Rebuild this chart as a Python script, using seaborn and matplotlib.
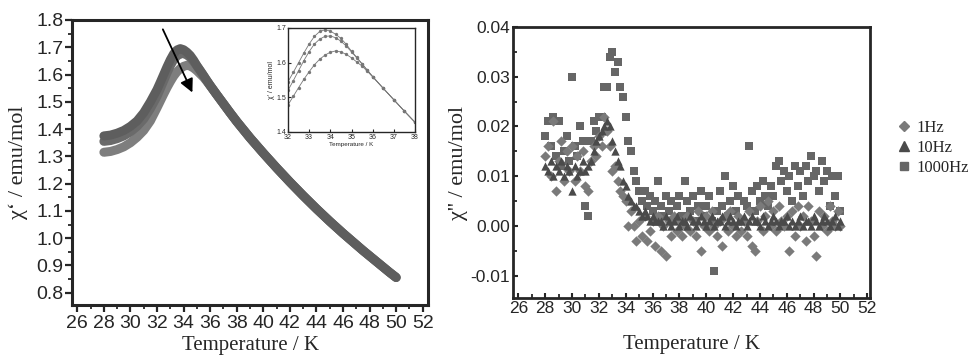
import numpy as np
import pandas as pd
import matplotlib
matplotlib.use("Agg")
import matplotlib.pyplot as plt
from matplotlib.lines import Line2D
from matplotlib.ticker import MultipleLocator
import seaborn as sns

# ---------------- data: left panel (chi') ----------------
T_head = [28.0, 28.5, 29.0, 29.5, 30.0, 30.5, 31.0, 31.5, 32.0, 32.25, 32.5, 32.75,
          33.0, 33.25, 33.5, 33.75, 34.0, 34.25, 34.5, 34.75, 35.0, 35.25, 35.5, 35.75, 36.0]
T_tail = [36.5, 37.0, 37.5, 38.0, 38.5, 39.0, 39.5, 40.0, 40.5, 41.0, 41.5, 42.0, 42.5, 43.0,
          43.5, 44.0, 44.5, 45.0, 45.5, 46.0, 46.5, 47.0, 47.5, 48.0, 48.5, 49.0, 49.5, 50.0]
chi1_head = [1.375, 1.378, 1.385, 1.395, 1.410, 1.430, 1.460, 1.500, 1.545, 1.572, 1.600, 1.628,
             1.654, 1.676, 1.690, 1.695, 1.691, 1.682, 1.670, 1.653, 1.633, 1.615, 1.597, 1.578, 1.560]
chi10_head = [1.355, 1.358, 1.365, 1.375, 1.390, 1.410, 1.437, 1.475, 1.520, 1.548, 1.577, 1.606,
              1.632, 1.654, 1.668, 1.676, 1.677, 1.672, 1.662, 1.648, 1.631, 1.614, 1.596, 1.578, 1.560]
chi1000_head = [1.315, 1.318, 1.325, 1.335, 1.350, 1.370, 1.395, 1.430, 1.478, 1.503, 1.528, 1.552,
                1.574, 1.594, 1.610, 1.622, 1.630, 1.634, 1.631, 1.624, 1.614, 1.602, 1.590, 1.575, 1.559]
chi_tail = [1.526, 1.493, 1.460, 1.428, 1.398, 1.368, 1.340, 1.312, 1.285, 1.258, 1.232, 1.206,
            1.181, 1.156, 1.132, 1.108, 1.085, 1.062, 1.040, 1.018, 0.997, 0.976, 0.955, 0.935,
            0.915, 0.895, 0.875, 0.856]

# ---------------- data: right panel (chi'') ----------------
T2 = [28.0, 28.2, 28.4, 28.6, 28.8, 29.0, 29.2, 29.4, 29.6, 29.8,
      30.0, 30.2, 30.4, 30.6, 30.8, 31.0, 31.2, 31.4, 31.6, 31.8,
      32.0, 32.2, 32.4, 32.6, 32.8, 33.0, 33.2, 33.4, 33.6, 33.8,
      34.0, 34.2, 34.4, 34.6, 34.8, 35.0, 35.2, 35.4, 35.6, 35.8,
      36.0, 36.2, 36.4, 36.6, 36.8, 37.0, 37.2, 37.4, 37.6, 37.8,
      38.0, 38.2, 38.4, 38.6, 38.8, 39.0, 39.2, 39.4, 39.6, 39.8,
      40.0, 40.2, 40.4, 40.6, 40.8, 41.0, 41.2, 41.4, 41.6, 41.8,
      42.0, 42.2, 42.4, 42.6, 42.8, 43.0, 43.2, 43.4, 43.6, 43.8,
      44.0, 44.2, 44.4, 44.6, 44.8, 45.0, 45.2, 45.4, 45.6, 45.8,
      46.0, 46.2, 46.4, 46.6, 46.8, 47.0, 47.2, 47.4, 47.6, 47.8,
      48.0, 48.2, 48.4, 48.6, 48.8, 49.0, 49.2, 49.4, 49.6, 49.8, 50.0]
chi2_1Hz = [0.014, 0.016, 0.010, 0.021, 0.007,
            0.013, 0.017, 0.009, 0.015, 0.011,
            0.016, 0.009, 0.014, 0.011, 0.015,
            0.008, 0.007, 0.013, 0.016, 0.014,
            0.018, 0.016, 0.022, 0.019, 0.016,
            0.011, 0.012, 0.009, 0.007, 0.006,
            0.005, 0.000, 0.003, 0.000, -0.003,
            0.001, -0.002, 0.002, -0.003, -0.001,
            0.001, -0.004, 0.002, -0.005, 0.000,
            -0.006, 0.001, -0.002, 0.002, -0.001,
            0.001, -0.002, 0.000, 0.002, -0.001,
            0.001, -0.002, 0.003, -0.005, 0.000,
            0.002, -0.001, 0.003, 0.000, -0.002,
            0.001, -0.004, 0.002, -0.001, 0.003,
            0.000, -0.002, 0.002, -0.001, 0.001,
            -0.002, 0.003, -0.004, -0.005, 0.001,
            0.004, -0.001, 0.002, 0.005, 0.000,
            0.003, -0.001, 0.004, 0.001, 0.000,
            0.002, -0.005, 0.003, -0.002, 0.004,
            0.000, 0.002, -0.003, 0.004, 0.001,
            -0.002, -0.006, 0.003, 0.000, 0.002,
            -0.001, 0.004, 0.001, 0.000, 0.003,
            0.000]
chi2_10Hz = [0.012, 0.011, 0.013, 0.010, 0.012,
             0.011, 0.013, 0.010, 0.012, 0.011,
             0.007, 0.012, 0.010, 0.011, 0.013,
             0.011, 0.012, 0.013, 0.015, 0.017,
             0.018, 0.019, 0.020, 0.021, 0.020,
             0.017, 0.015, 0.013, 0.012, 0.009,
             0.008, 0.006, 0.005, 0.004, 0.004,
             0.003, 0.002, 0.003, 0.002, 0.001,
             0.002, 0.001, 0.001, 0.001, 0.000,
             0.002, 0.001, 0.000, 0.001, 0.002,
             0.000, 0.001, 0.001, 0.000, 0.002,
             0.001, 0.000, 0.001, 0.002, 0.001,
             0.000, 0.001, 0.002, 0.000, 0.001,
             0.001, 0.002, 0.000, 0.001, 0.002,
             0.001, 0.000, 0.001, 0.001, 0.002,
             0.000, 0.001, 0.002, 0.001, 0.001,
             0.000, 0.002, 0.001, 0.000, 0.001,
             0.002, 0.001, 0.000, 0.001, 0.001,
             0.002, 0.000, 0.001, 0.000, 0.001,
             0.002, 0.000, 0.001, 0.001, 0.000,
             0.002, 0.001, 0.000, 0.001, 0.002,
             0.001, 0.000, 0.001, 0.002, 0.000,
             0.001]
chi2_1000Hz = [0.018, 0.021, 0.016, 0.022, 0.014,
               0.021, 0.012, 0.015, 0.018, 0.013,
               0.030, 0.016, 0.014, 0.020, 0.017,
               0.004, 0.002, 0.017, 0.021, 0.019,
               0.022, 0.022, 0.028, 0.028, 0.034,
               0.035, 0.031, 0.033, 0.028, 0.026,
               0.022, 0.017, 0.015, 0.011, 0.009,
               0.007, 0.005, 0.007, 0.004, 0.006,
               0.003, 0.005, 0.009, 0.004, 0.002,
               0.006, 0.003, 0.005, 0.001, 0.004,
               0.006, 0.002, 0.009, 0.005, 0.003,
               0.006, 0.001, 0.004, 0.007, 0.002,
               0.004, 0.006, 0.001, -0.009, 0.003,
               0.007, 0.004, 0.010, 0.002, 0.005,
               0.008, 0.003, 0.006, 0.001, 0.005,
               0.004, 0.016, 0.007, 0.003, 0.008,
               0.005, 0.009, 0.006, 0.004, 0.008,
               0.006, 0.012, 0.013, 0.009, 0.011,
               0.007, 0.010, 0.005, 0.012, 0.008,
               0.011, 0.006, 0.012, 0.009, 0.014,
               0.010, 0.011, 0.007, 0.013, 0.009,
               0.011, 0.004, 0.010, 0.006, 0.010,
               0.003]

freqs = ["1Hz", "10Hz", "1000Hz"]
line_colors = {"1Hz": "#5e5e5e", "10Hz": "#6a6a6a", "1000Hz": "#7e7e7e"}
pt_colors = {"1Hz": "#7a7a7a", "10Hz": "#4a4a4a", "1000Hz": "#666666"}
pt_markers = {"1Hz": "D", "10Hz": "^", "1000Hz": "s"}

sns.set_style("ticks")
plt.rcParams["font.family"] = ["Liberation Sans", "DejaVu Sans"]
serif = ["Liberation Serif", "DejaVu Serif"]

# long-form tables
heads = {"1Hz": chi1_head, "10Hz": chi10_head, "1000Hz": chi1000_head}
rows = []
for f in ["1000Hz", "10Hz", "1Hz"]:
    for t, c in zip(T_head + T_tail, heads[f] + chi_tail):
        rows.append((t, c, f))
df1 = pd.DataFrame(rows, columns=["T", "chi", "freq"])

vals2 = {"1Hz": chi2_1Hz, "10Hz": chi2_10Hz, "1000Hz": chi2_1000Hz}
rows2 = []
for f in freqs:
    for t, c in zip(T2, vals2[f]):
        rows2.append((t, c, f))
df2 = pd.DataFrame(rows2, columns=["T", "chi2", "freq"])

fig = plt.figure(figsize=(9.78, 3.57), dpi=100)
ax1 = fig.add_axes([72 / 978, 1 - 305 / 357, 356 / 978, 285 / 357])
ax2 = fig.add_axes([513 / 978, 1 - 298 / 357, 357 / 978, 271 / 357])
axin = fig.add_axes([288 / 978, 1 - 132 / 357, 127 / 978, 104 / 357])

# ---------------- left panel ----------------
for f in ["1000Hz", "10Hz", "1Hz"]:
    sub = df1[df1["freq"] == f]
    sns.lineplot(data=sub, x="T", y="chi", color=line_colors[f], lw=6.5,
                 estimator=None, sort=False, ax=ax1, legend=False,
                 solid_capstyle="round")
ax1.set_xlim(25.6, 52.4)
ax1.set_ylim(0.755, 1.8)
ax1.xaxis.set_major_locator(MultipleLocator(2))
ax1.xaxis.set_minor_locator(MultipleLocator(1))
ax1.yaxis.set_major_locator(MultipleLocator(0.1))
ax1.yaxis.set_minor_locator(MultipleLocator(0.05))
ax1.tick_params(which="major", direction="out", length=5, width=1.6, labelsize=14, pad=1)
ax1.tick_params(which="minor", direction="out", length=3, width=1.3)
ax1.tick_params(axis="x", pad=2)
for s in ax1.spines.values():
    s.set_linewidth(2.2)
ax1.set_xlabel("Temperature / K", family=serif, fontsize=15, labelpad=3)
ax1.set_ylabel("χ‘ / emu/mol", family=serif, fontsize=16, labelpad=6)
ax1.annotate("", xy=(34.75, 1.525), xytext=(32.35, 1.775),
             arrowprops=dict(arrowstyle="-|>", color="black", lw=1.3, mutation_scale=20))

# ---------------- inset ----------------
for f in ["1000Hz", "10Hz", "1Hz"]:
    sub = df1[(df1["freq"] == f) & (df1["T"] >= 31.9) & (df1["T"] <= 38.1)]
    sns.lineplot(data=sub, x="T", y="chi", color="#777777", lw=0.6, marker="o",
                 markersize=2.4, markeredgewidth=0, estimator=None, sort=False,
                 ax=axin, legend=False)
axin.set_xlim(32, 38)
axin.set_ylim(1.4, 1.7)
axin.set_xticks([32, 33, 34, 35, 36, 37, 38])
axin.set_yticks([1.4, 1.5, 1.6, 1.7])
axin.tick_params(direction="in", length=2, width=0.8, labelsize=5, pad=1.5)
for s in axin.spines.values():
    s.set_linewidth(1.0)
axin.set_xlabel("Temperature / K", fontsize=4.5, labelpad=1)
axin.set_ylabel("χ' / emu/mol", fontsize=5, labelpad=1)

# ---------------- right panel ----------------
for f in ["1000Hz", "1Hz", "10Hz"]:
    sub = df2[df2["freq"] == f]
    sns.scatterplot(data=sub, x="T", y="chi2", color=pt_colors[f], marker=pt_markers[f],
                    s=28 if f != "10Hz" else 36, linewidth=0, ax=ax2, legend=False)
ax2.set_xlim(25.6, 52.2)
ax2.set_ylim(-0.0145, 0.04)
ax2.xaxis.set_major_locator(MultipleLocator(2))
ax2.xaxis.set_minor_locator(MultipleLocator(1))
ax2.yaxis.set_major_locator(MultipleLocator(0.01))
ax2.yaxis.set_minor_locator(MultipleLocator(0.005))
ax2.set_yticks([-0.01, 0.0, 0.01, 0.02, 0.03, 0.04])
ax2.set_yticklabels(["-0.01", "0.00", "0.01", "0.02", "0.03", "0.04"])
ax2.tick_params(which="major", direction="in", length=3.5, width=1.5, labelsize=12.5, pad=2)
ax2.tick_params(which="minor", direction="in", length=3, width=1.3)
for s in ax2.spines.values():
    s.set_linewidth(2.0)
ax2.set_xlabel("Temperature / K", family=serif, fontsize=15, labelpad=14)
ax2.set_ylabel("χ'' / emu/mol", family=serif, fontsize=16, labelpad=2)

handles = [Line2D([], [], ls="", marker=pt_markers[f], color=pt_colors[f],
                  markersize=5.5 if f != "10Hz" else 6.5, label=f) for f in freqs]
leg = fig.legend(handles=handles, loc="center left", bbox_to_anchor=(0.912, 0.585),
                 frameon=False, prop={"family": serif, "size": 12},
                 handlelength=0.6, handletextpad=0.5, labelspacing=0.25, borderaxespad=0)

fig.savefig("out.png", dpi=100, facecolor="white")
